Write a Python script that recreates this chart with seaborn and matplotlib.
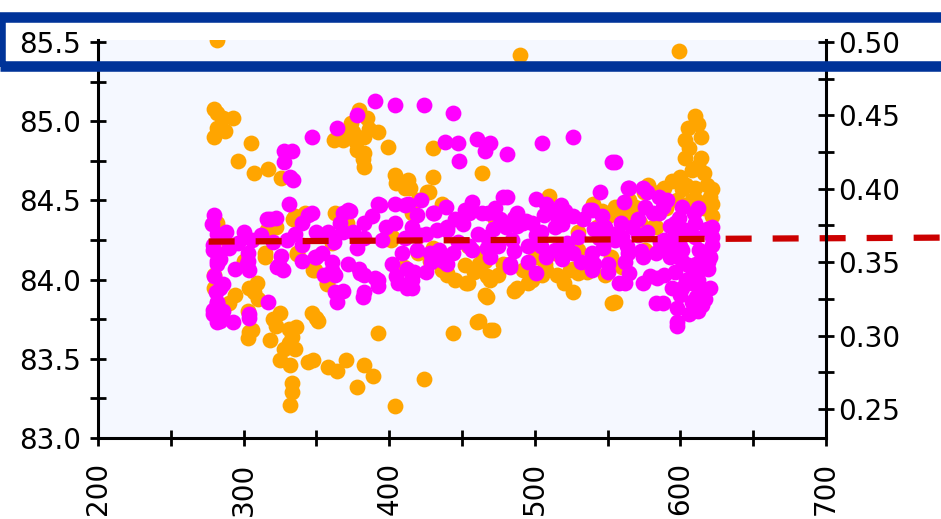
import matplotlib
matplotlib.use("Agg")
import matplotlib.pyplot as plt
import matplotlib.patches as mpatches
from matplotlib.ticker import MultipleLocator, FormatStrFormatter
import pandas as pd
import seaborn as sns

# orange series (left axis units)
orange_x = [282, 490, 599, 282, 282, 293, 287, 305, 296, 317, 307, 326, 379, 374, 385, 368, 377, 383,
            392, 383, 383, 399, 404, 411, 335, 342, 363, 371, 322, 282, 402, 315, 337, 361,
            430, 430, 464, 510, 413, 427, 420, 436, 546, 543, 555, 473, 416, 464, 514, 530, 420, 454,
            610, 605, 603, 614, 603, 614, 608, 600, 616, 610, 622, 601, 622, 589, 578, 569, 557, 562,
            583, 576, 585, 622,
            280, 280, 294, 309, 307, 315, 337, 349, 357, 303, 304, 303, 325, 322, 331, 333, 318, 331,
            335, 347, 351, 392, 325, 332, 344, 348, 358, 364, 370, 383, 389, 378, 333, 333, 332, 404,
            444, 460, 471, 424, 526, 553, 440, 454, 466, 467, 486, 495, 505, 507, 526, 530, 452, 466,
            480, 555,
            611, 558, 567, 581, 462, 469, 467, 488, 508, 524, 469, 462, 572,
            282, 316, 334, 366, 401, 282, 304, 348, 357, 440, 453, 350, 306, 414, 426, 405]
orange_y = [85.51, 85.42, 85.44, 85.05, 84.96, 85.02, 84.94, 84.86, 84.75, 84.70, 84.67, 84.64, 85.07,
            84.99, 85.02, 84.88, 84.87, 84.90, 84.93, 84.80, 84.71, 84.84, 84.66, 84.58, 84.40, 84.42,
            84.42, 84.36, 84.33, 84.34, 84.27, 84.17, 84.17, 84.23,
            84.83, 84.65, 84.67, 84.53, 84.63, 84.55, 84.50, 84.48, 84.43, 84.33, 84.46, 84.38, 84.42,
            84.17, 84.17, 84.19, 84.17, 84.21,
            85.03, 84.96, 84.88, 84.90, 84.77, 84.77, 84.69, 84.65, 84.67, 84.58, 84.57, 84.57, 84.48,
            84.58, 84.60, 84.46, 84.46, 84.38, 84.33, 84.19, 84.19, 84.40,
            84.03, 83.95, 83.90, 83.98, 83.92, 84.14, 84.16, 84.06, 83.97, 83.80, 83.67, 83.63, 83.79,
            83.71, 83.69, 83.64, 83.62, 83.60, 83.56, 83.79, 83.74, 83.66, 83.49, 83.46, 83.48, 83.49,
            83.45, 83.42, 83.49, 83.46, 83.39, 83.32, 83.35, 83.29, 83.21, 83.20,
            83.66, 83.73, 83.68, 83.37, 83.92, 83.85, 84.03, 83.98, 83.90, 84.02, 83.93, 83.98, 84.03,
            84.10, 84.07, 84.04, 84.09, 84.12, 84.09, 83.86,
            84.50, 84.44, 84.46, 84.33, 84.10, 84.00, 83.89, 83.95, 84.06, 84.06, 83.68, 83.74, 84.36,
            84.36, 84.31, 84.38, 84.40, 84.25, 83.98, 83.95, 84.06, 83.98, 84.04, 83.98, 83.76, 83.68,
            84.58, 84.55, 84.61]

# orange points inside the dense patches
orange_dense_x = [410, 428, 436, 445, 458, 475, 478, 492, 498, 515, 520, 536, 548, 560, 552, 500, 430, 470,
                  612, 606, 612, 618, 604, 608, 616, 598, 594, 620,
                  520, 530, 540, 550, 565, 575, 585, 590,
                  375, 378, 382, 386, 372, 362, 280, 286, 280,
                  290, 300, 290, 310, 320, 336, 328]
orange_dense_y = [84.08, 84.12, 84.06, 84.00, 84.05, 84.03, 84.10, 84.06, 84.00, 84.03, 83.98, 84.05, 84.03,
                  84.08, 84.14, 84.14, 84.20, 84.23,
                  84.98, 84.83, 84.72, 84.60, 84.60, 84.50, 84.45, 84.50, 84.62, 84.52,
                  84.40, 84.30, 84.48, 84.40, 84.50, 84.55, 84.55, 84.45,
                  84.93, 84.82, 84.76, 84.95, 84.92, 84.88, 85.08, 85.02, 84.90,
                  84.22, 84.12, 83.85, 83.88, 83.75, 83.70, 83.56]

# magenta series (left axis units)
magenta_x = [390, 404, 378, 364, 347, 328, 333, 328, 332, 334, 331, 347, 322, 316, 340, 335, 372, 368,
             383, 358, 368, 392, 404, 411, 404, 383, 285, 296, 306, 320, 330, 282, 303, 354, 409,
             424, 444, 438, 447, 460, 469, 466, 481, 448, 505, 526, 553, 545, 413, 431, 440, 425, 452,
             464, 478, 488, 498, 480, 461, 509, 514, 526, 539, 548, 530, 555, 475, 495, 434, 457, 514, 539,
             555, 564, 574, 585, 571, 585, 601, 612, 596, 610, 622, 560, 589, 610, 622, 564, 583, 601, 617,
             282, 303, 294, 304, 324, 327, 349, 361, 286, 282, 282, 293, 304, 317, 363, 363, 368, 364,
             379, 383, 390, 383, 402, 406, 412, 412,
             416, 425, 429, 483, 532, 550,
             562, 574, 584, 583, 598, 598, 593, 605, 619, 608, 615, 608, 615, 601, 562,
             565, 577, 588, 609, 481, 476, 492, 508, 515, 554, 563, 550, 565, 558, 579, 600, 611, 604,
             611, 588, 598, 483, 519, 508,
             318, 344, 357, 373, 394, 430, 440, 416, 282, 282, 302, 323, 350, 361, 380, 392, 405, 416,
             428, 440, 284, 282, 284, 304, 382, 412, 455, 455, 280, 279, 279]
magenta_y = [85.13, 85.10, 85.04, 84.96, 84.90, 84.81, 84.81, 84.74, 84.65, 84.63, 84.48, 84.42, 84.39,
             84.38, 84.36, 84.29, 84.44, 84.42, 84.36, 84.30, 84.30, 84.48, 84.48, 84.47, 84.36, 84.26,
             84.27, 84.23, 84.25, 84.24, 84.25, 84.17, 84.17, 84.17, 84.17,
             85.10, 85.05, 84.87, 84.86, 84.89, 84.86, 84.81, 84.79, 84.75, 84.86, 84.90, 84.74, 84.55,
             84.48, 84.42, 84.33, 84.29, 84.44, 84.42, 84.52, 84.42, 84.36, 84.33, 84.29, 84.46, 84.33,
             84.40, 84.44, 84.33, 84.27, 84.25, 84.21, 84.21, 84.19, 84.19, 84.19, 84.17,
             84.74, 84.58, 84.58, 84.52, 84.38, 84.42, 84.46, 84.45, 84.36, 84.36, 84.33, 84.27, 84.25,
             84.27, 84.27, 84.17, 84.17, 84.19, 84.17,
             84.12, 84.12, 84.07, 84.06, 84.09, 84.06, 84.14, 84.11, 83.97, 83.86, 83.73, 83.73, 83.78,
             83.86, 84.03, 83.92, 83.93, 83.86, 84.07, 84.03, 84.01, 83.92, 84.10, 83.98, 83.97, 84.07,
             83.95, 84.05, 84.11, 84.08, 84.11, 84.05,
             83.98, 83.98, 84.01, 83.85, 83.82, 83.71, 84.14, 84.09, 84.07, 83.98, 83.92, 83.86, 83.84,
             83.95, 84.11,
             84.58, 84.55, 84.46, 84.42, 84.52, 84.38, 84.36, 84.48, 84.40, 84.29, 84.21, 84.10, 84.04,
             83.98, 84.02, 84.21, 84.10, 84.00, 83.89, 83.85, 83.73, 84.10, 84.21, 84.14,
             84.38, 84.41, 84.29, 84.43, 84.47, 84.42, 84.31, 84.29, 84.29, 84.10, 84.10, 84.08, 84.14,
             84.06, 84.04, 84.00, 84.02, 84.00, 84.17, 84.10, 83.95, 83.85, 83.74, 83.76, 83.89, 83.95,
             84.42, 84.21, 84.41, 84.19, 83.81]

# magenta points inside the dense patches
magenta_dense_x = [422, 439, 457, 473, 501, 518, 537, 561, 576, 591,
                   419, 445, 468, 486, 494, 506, 521, 533, 546, 559, 581, 599,
                   416, 433, 451, 471, 488, 504, 519, 541, 567, 577, 593, 603,
                   411, 421, 447, 467, 484, 501, 522, 544, 571, 586, 597,
                   419, 444, 467, 486, 504, 526, 547, 573, 591, 613,
                   437, 469, 495, 519, 541, 574, 601, 619,
                   417, 501, 539, 589, 611,
                   597, 603, 618, 596, 612, 620, 600, 620, 606, 612, 594, 622, 617,
                   278, 279, 284, 280, 281, 279, 290, 288, 286,
                   340, 350, 362, 375, 388, 398, 378, 395, 355, 372, 340, 312, 300, 326, 366, 392]
magenta_dense_y = [84.50, 84.46, 84.49, 84.45, 84.51, 84.47, 84.44, 84.49, 84.46, 84.50,
                   84.41, 84.38, 84.42, 84.39, 84.37, 84.41, 84.43, 84.38, 84.40, 84.36, 84.42, 84.39,
                   84.33, 84.31, 84.35, 84.32, 84.34, 84.30, 84.35, 84.32, 84.33, 84.30, 84.34, 84.31,
                   84.26, 84.28, 84.24, 84.27, 84.25, 84.28, 84.23, 84.26, 84.28, 84.24, 84.27,
                   84.19, 84.17, 84.20, 84.18, 84.21, 84.17, 84.20, 84.18, 84.21, 84.19,
                   84.12, 84.14, 84.11, 84.13, 84.10, 84.14, 84.12, 84.11,
                   84.05, 84.04, 84.06, 84.03, 84.05,
                   84.28, 84.30, 84.32, 84.05, 84.00, 84.14, 83.90, 83.95, 83.78, 83.80, 83.95, 84.22, 83.88,
                   84.35, 84.22, 84.13, 84.02, 83.92, 83.78, 84.20, 84.30, 83.80,
                   84.22, 84.30, 84.24, 84.30, 84.40, 84.33, 84.20, 84.25, 84.03, 84.10, 84.12, 84.28,
                   84.30, 84.15, 84.36, 83.96]

# dashed trend line
trend_x = [276, 779]
trend_y = [84.24, 84.265]

x_ticks = [200, 300, 400, 500, 600, 700]

orange_df = pd.DataFrame({"x": orange_x + orange_dense_x, "y": orange_y + orange_dense_y})
magenta_df = pd.DataFrame({"x": magenta_x + magenta_dense_x, "y": magenta_y + magenta_dense_y})

plt.rcParams["font.family"] = ["DejaVu Sans"]

fig = plt.figure(figsize=(9.41, 5.19), dpi=100)
fig.patch.set_facecolor("white")
W, H = 941, 519
ax = fig.add_axes([98 / W, (H - 438) / H, (826 - 98) / W, (438 - 40) / H])
ax.set_facecolor("#F5F8FF")

sns.scatterplot(data=orange_df, x="x", y="y", ax=ax, color="#FFA500", s=130,
                linewidth=0, legend=False, zorder=3)
sns.scatterplot(data=magenta_df, x="x", y="y", ax=ax, color="#FF00FF", s=130,
                linewidth=0, legend=False, zorder=4)
line, = ax.plot(trend_x, trend_y, color="#CC0000", linewidth=4.5, zorder=5,
                clip_on=False, solid_capstyle="butt", dash_capstyle="butt")
line.set_dashes((4.16, 3.36))

ax.set_xlim(200, 700)
ax.set_ylim(83.0, 85.5126)
ax.set_xlabel("")
ax.set_ylabel("")
ax.set_xticks(x_ticks)
ax.xaxis.set_minor_locator(MultipleLocator(50))
ax.yaxis.set_major_locator(MultipleLocator(0.5))
ax.yaxis.set_minor_locator(MultipleLocator(0.25))
ax.yaxis.set_major_formatter(FormatStrFormatter("%.1f"))
ax.tick_params(axis="x", which="both", direction="inout", length=11, width=2,
               labelsize=20, pad=12, labelrotation=90)
ax.tick_params(axis="y", which="both", direction="inout", length=11, width=2,
               labelsize=20, pad=6.5)
for side in ["top", "right"]:
    ax.spines[side].set_visible(False)
for side in ["left", "bottom"]:
    ax.spines[side].set_linewidth(2.2)

ax2 = ax.twinx()
ax2.set_ylim(0.2302, 0.50136)
ax2.yaxis.set_major_locator(MultipleLocator(0.05))
ax2.yaxis.set_minor_locator(MultipleLocator(0.025))
ax2.yaxis.set_major_formatter(FormatStrFormatter("%.2f"))
ax2.tick_params(axis="y", which="both", direction="inout", length=11, width=2,
                labelsize=20, pad=3.5)
for side in ["top", "left", "bottom"]:
    ax2.spines[side].set_visible(False)
ax2.spines["right"].set_linewidth(2.2)
ax2.patch.set_visible(False)

# highlight box round the top tick row
box = mpatches.Rectangle((0, (H - 66) / H), 943 / W, (66 - 16.5) / H,
                         transform=fig.transFigure, fill=False,
                         edgecolor="#003399", linewidth=7.6, zorder=10)
fig.patches.append(box)

fig.savefig("out.png", dpi=100)
